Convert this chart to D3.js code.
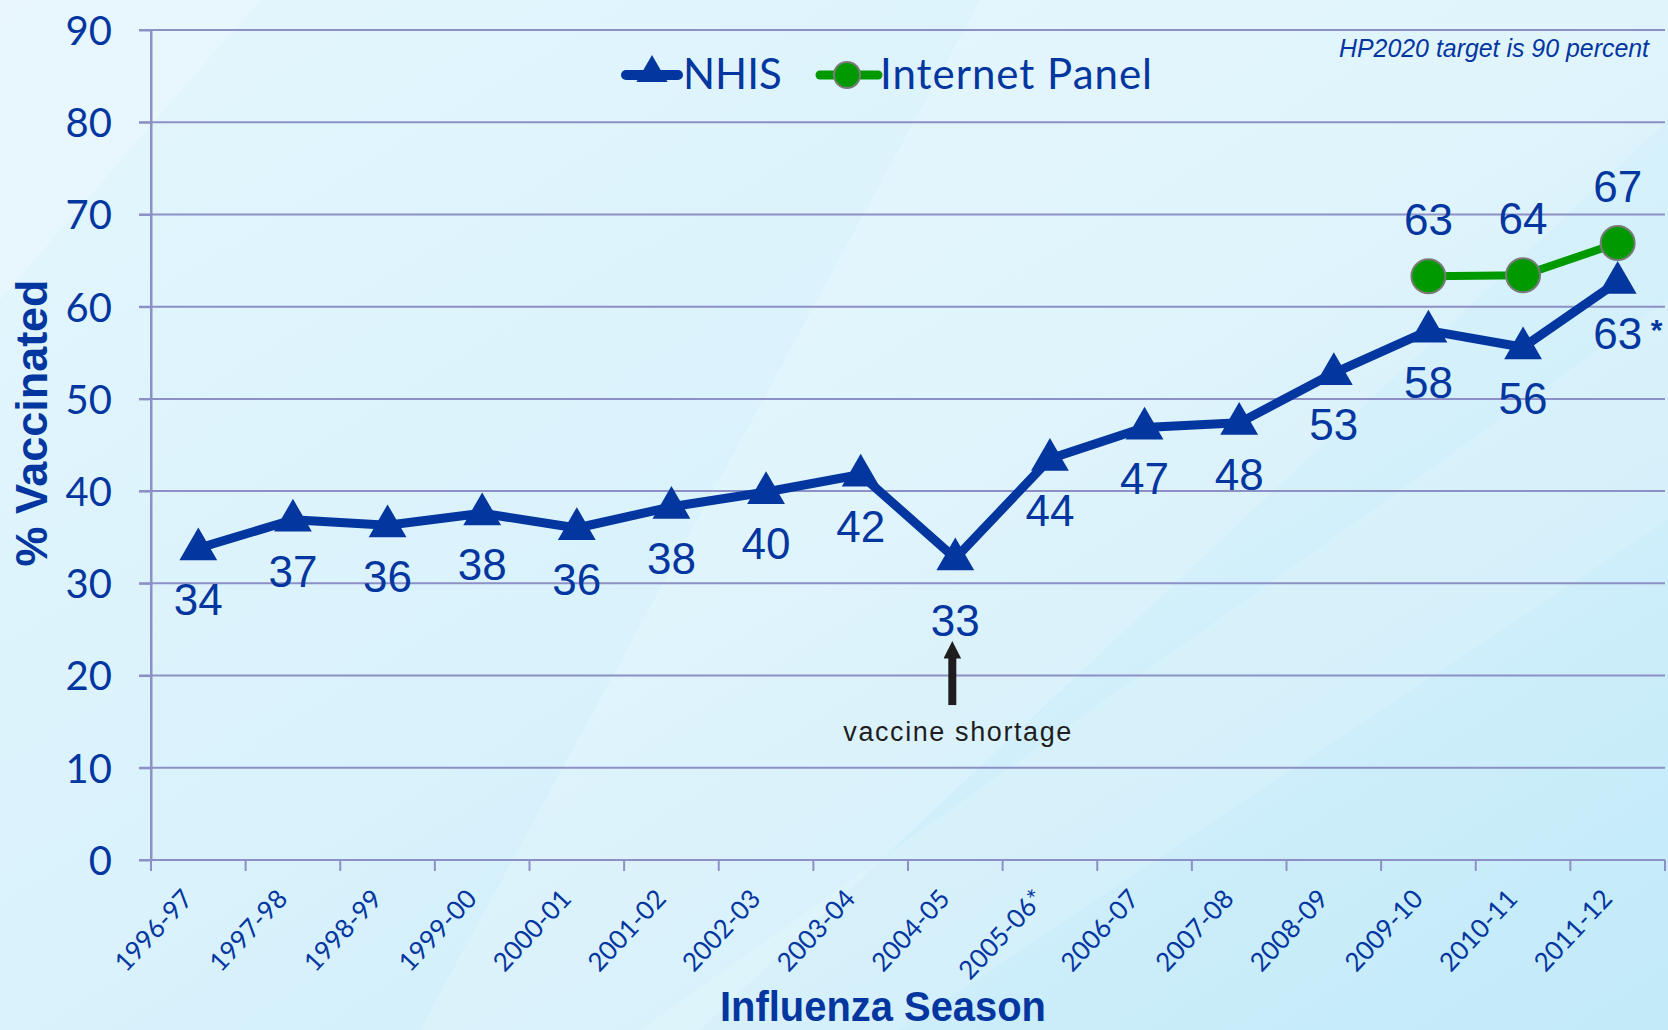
<!DOCTYPE html>
<meta charset="utf-8">
<style>
body { margin: 0; }
text { font-family: "Lato", "Liberation Sans", sans-serif; }
.tick line, .domain { stroke: #8c90c4; stroke-width: 2; }
.grid line { stroke: #8c90c4; stroke-width: 2; }
</style>
<svg width="1668" height="1030"></svg>
<script src="https://d3js.org/d3.v7.min.js"></script>
<script>

var seasons = ["1996-97", "1997-98", "1998-99", "1999-00", "2000-01", "2001-02", "2002-03", "2003-04",
               "2004-05", "2005-06*", "2006-07", "2007-08", "2008-09", "2009-10", "2010-11", "2011-12"];
var nhis = [33.8, 36.9, 36.3, 37.6, 36.0, 38.3, 39.9, 41.8, 32.7, 43.5, 46.9, 47.4, 52.8, 57.4, 55.6, 62.7];
var nhisLabels = ["34", "37", "36", "38", "36", "38", "40", "42", "33", "44", "47", "48", "53", "58", "56", "63"];
var panelSeasons = ["2009-10", "2010-11", "2011-12"];
var panel = [63.3, 63.4, 66.9];
var panelLabels = ["63", "64", "67"];
var yTicks = [0, 10, 20, 30, 40, 50, 60, 70, 80, 90];

var blue = "#0436a0", green = "#009a00";

var svg = d3.select("svg"),
    margin = {top: 30, right: 3, bottom: 170, left: 151},
    width = +svg.attr("width") - margin.left - margin.right,
    height = +svg.attr("height") - margin.top - margin.bottom;

// background
var defs = svg.append("defs");
var bg = defs.append("linearGradient").attr("id", "bg")
    .attr("x1", "0").attr("y1", "0").attr("x2", "1").attr("y2", "1");
bg.append("stop").attr("offset", "0").attr("stop-color", "#e4f6fd");
bg.append("stop").attr("offset", "0.5").attr("stop-color", "#d9f2fc");
bg.append("stop").attr("offset", "1").attr("stop-color", "#c2eaf8");
svg.append("rect").attr("width", 1668).attr("height", 1030).attr("fill", "url(#bg)");
// soft diagonal streaks
svg.append("path").attr("d", "M980,0 L1668,0 L1668,120 L700,1030 L420,1030 Z")
    .attr("fill", "#ffffff").attr("opacity", 0.18);
svg.append("path").attr("d", "M1668,300 L1668,520 L900,1030 L640,1030 Z")
    .attr("fill", "#ffffff").attr("opacity", 0.15);
svg.append("path").attr("d", "M0,0 L260,0 L0,300 Z")
    .attr("fill", "#ffffff").attr("opacity", 0.2);

var x = d3.scaleBand().domain(seasons).range([0, width]),
    y = d3.scaleLinear().domain([0, 90]).range([height, 0]);

var g = svg.append("g")
    .attr("transform", "translate(" + margin.left + "," + margin.top + ")");

function cx(s) { return x(s) + x.bandwidth() / 2; }

// gridlines
g.append("g").attr("class", "grid")
  .selectAll("line").data(yTicks.slice(1)).enter().append("line")
    .attr("x1", -12).attr("x2", width)
    .attr("y1", function(d) { return y(d); }).attr("y2", function(d) { return y(d); });

// Y axis
var yAxis = g.append("g")
    .call(d3.axisLeft(y).tickValues(yTicks).tickSize(12).tickSizeOuter(0).tickPadding(27));
yAxis.selectAll("text")
    .attr("fill", blue).style("font-size", "40px").attr("dy", "0.36em");

// X axis, ticks at band edges
var xAxis = g.append("g").attr("transform", "translate(0," + height + ")");
xAxis.append("line").attr("class", "domain").attr("x1", -12).attr("x2", width)
    .attr("y1", 0).attr("y2", 0);
xAxis.selectAll(".xt").data(seasons.concat(["end"])).enter().append("line")
    .attr("class", "xt")
    .attr("stroke", "#8c90c4").attr("stroke-width", 2)
    .attr("x1", function(d, i) { return i * x.step(); })
    .attr("x2", function(d, i) { return i * x.step(); })
    .attr("y1", 0).attr("y2", 11);
g.append("line").attr("class", "domain").attr("x1", 0).attr("x2", 0).attr("y1", 0).attr("y2", height);
xAxis.selectAll(".xl").data(seasons).enter().append("text")
    .attr("class", "xl")
    .attr("text-anchor", "end")
    .attr("fill", blue)
    .style("font-size", "26px")
    .attr("transform", function(d) { return "translate(" + (cx(d) - 4) + ",40) rotate(-47)"; })
    .text(function(d) { return d; });

// axis titles
svg.append("text")
    .attr("x", 883).attr("y", 1021)
    .attr("text-anchor", "middle")
    .attr("fill", blue)
    .attr("textLength", 326).attr("lengthAdjust", "spacingAndGlyphs")
    .style("font-family", "'Liberation Sans', sans-serif")
    .style("font-weight", "bold").style("font-size", "42px")
    .text("Influenza Season");
svg.append("text")
    .attr("transform", "translate(47,423) rotate(-90)")
    .attr("text-anchor", "middle")
    .attr("fill", blue)
    .attr("textLength", 287).attr("lengthAdjust", "spacingAndGlyphs")
    .style("font-family", "'Liberation Sans', sans-serif")
    .style("font-weight", "bold").style("font-size", "44px")
    .text("% Vaccinated");

// NHIS line
var line = d3.line()
    .x(function(d) { return cx(d.s); })
    .y(function(d) { return y(d.v); });

var nhisData = seasons.map(function(s, i) { return {s: s, v: nhis[i], l: nhisLabels[i]}; });
var panelData = panelSeasons.map(function(s, i) { return {s: s, v: panel[i], l: panelLabels[i]}; });

g.append("path").datum(nhisData)
    .attr("fill", "none").attr("stroke", blue).attr("stroke-width", 9)
    .attr("stroke-linejoin", "round")
    .attr("d", line);

var tri = d3.symbol().type(d3.symbolTriangle).size(620);
g.selectAll(".tri").data(nhisData).enter().append("path")
    .attr("class", "tri")
    .attr("fill", blue)
    .attr("d", tri)
    .attr("transform", function(d) { return "translate(" + cx(d.s) + "," + (y(d.v) + 1) + ")"; });

g.selectAll(".nl").data(nhisData).enter().append("text")
    .attr("class", "nl")
    .attr("text-anchor", "middle")
    .attr("fill", blue)
    .style("font-family", "'Liberation Sans', sans-serif")
    .style("font-size", "44px")
    .attr("x", function(d) { return cx(d.s); })
    .attr("y", function(d) { return y(d.v) + (d.s === "2004-05" ? 78 : 67); })
    .text(function(d) { return d.l; });

g.append("text")
    .attr("x", cx("2011-12") + 39).attr("y", y(62.7) + 58)
    .attr("text-anchor", "middle")
    .attr("fill", blue)
    .style("font-family", "'Liberation Sans', sans-serif")
    .style("font-weight", "bold").style("font-size", "30px")
    .text("*");

// Internet panel
g.append("path").datum(panelData)
    .attr("fill", "none").attr("stroke", green).attr("stroke-width", 8)
    .attr("d", line);
g.selectAll(".dot").data(panelData).enter().append("circle")
    .attr("class", "dot")
    .attr("fill", green).attr("stroke", "#7a7a7a").attr("stroke-width", 2)
    .attr("r", 17)
    .attr("cx", function(d) { return cx(d.s); })
    .attr("cy", function(d) { return y(d.v); });
g.selectAll(".pl").data(panelData).enter().append("text")
    .attr("class", "pl")
    .attr("text-anchor", "middle")
    .attr("fill", blue)
    .style("font-family", "'Liberation Sans', sans-serif")
    .style("font-size", "44px")
    .attr("x", function(d) { return cx(d.s); })
    .attr("y", function(d) { return y(d.v) - 41; })
    .text(function(d) { return d.l; });

// vaccine shortage arrow
var ax = cx("2004-05") - 3;
defs.append("marker").attr("id", "head")
    .attr("viewBox", "0 0 10 10").attr("refX", 5).attr("refY", 5)
    .attr("markerWidth", 3).attr("markerHeight", 2.2)
    .attr("orient", "auto")
    .append("path").attr("d", "M0,0 L10,5 L0,10 Z").attr("fill", "#1e1e1e");
g.append("line")
    .attr("x1", ax).attr("x2", ax)
    .attr("y1", y(16.8)).attr("y2", y(22.8))
    .attr("stroke", "#1e1e1e").attr("stroke-width", 8)
    .attr("marker-end", "url(#head)");
g.append("text")
    .attr("x", ax + 5).attr("y", y(16.8) + 36)
    .attr("text-anchor", "middle")
    .attr("fill", "#1e1e1e")
    .attr("textLength", 228).attr("lengthAdjust", "spacing")
    .style("font-family", "'Liberation Sans', sans-serif")
    .style("font-size", "27px")
    .text("vaccine shortage");

// HP2020 note
svg.append("text")
    .attr("x", 1649).attr("y", 57)
    .attr("text-anchor", "end")
    .attr("fill", blue)
    .attr("textLength", 310).attr("lengthAdjust", "spacingAndGlyphs")
    .style("font-family", "'Liberation Sans', sans-serif")
    .style("font-style", "italic").style("font-size", "25px")
    .text("HP2020 target is 90 percent");

// legend
var legend = svg.append("g");
legend.append("line").attr("x1", 626).attr("x2", 678).attr("y1", 75).attr("y2", 75)
    .attr("stroke", blue).attr("stroke-width", 10).attr("stroke-linecap", "round");
legend.append("path").attr("d", d3.symbol().type(d3.symbolTriangle).size(420))
    .attr("fill", blue).attr("transform", "translate(652,73)");
legend.append("text").attr("x", 683).attr("y", 89)
    .attr("fill", blue).style("font-size", "42px").text("NHIS");
legend.append("line").attr("x1", 820).attr("x2", 878).attr("y1", 75).attr("y2", 75)
    .attr("stroke", green).attr("stroke-width", 9).attr("stroke-linecap", "round");
legend.append("circle").attr("cx", 847).attr("cy", 75).attr("r", 13)
    .attr("fill", green).attr("stroke", "#7a7a7a").attr("stroke-width", 2);
legend.append("text").attr("x", 880).attr("y", 89)
    .attr("fill", blue).attr("textLength", 272).attr("lengthAdjust", "spacing")
    .style("font-size", "42px").text("Internet Panel");

</script>
